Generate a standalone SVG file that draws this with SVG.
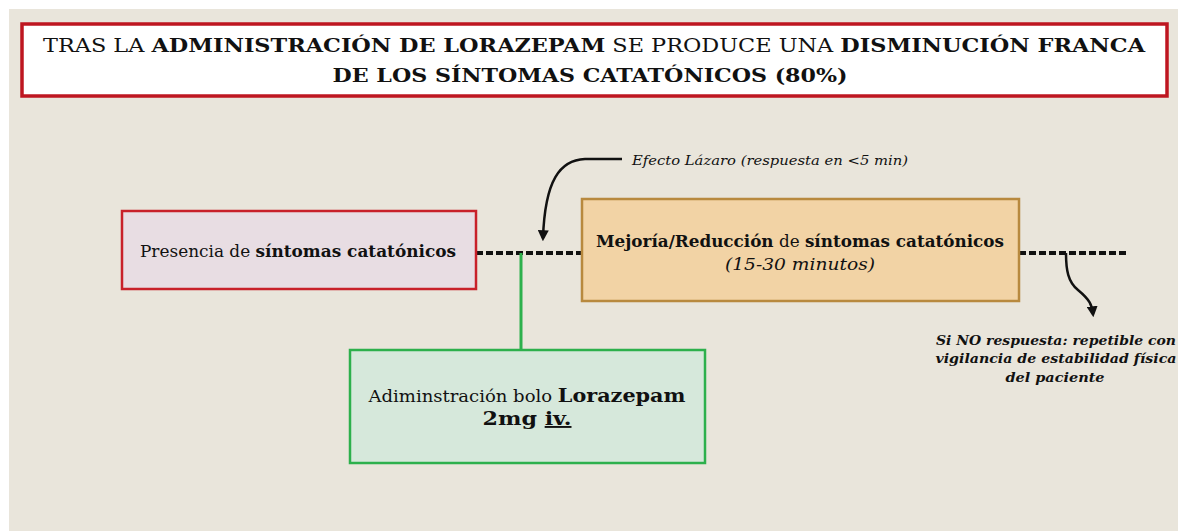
<svg xmlns="http://www.w3.org/2000/svg" width="1178" height="531" viewBox="0 0 1178 531">
<style>
.t{font-family:"DejaVu Serif","Liberation Serif",serif;fill:#111}
.b{font-weight:bold}
.i{font-style:italic}
.dash{stroke:#111;stroke-width:4;stroke-dasharray:7 3;fill:none}
.curve{stroke:#111;stroke-width:2.5;fill:none}
</style>
<defs>
<marker id="ah" viewBox="0 0 10 10" refX="7" refY="5" markerWidth="4.4" markerHeight="4.4" orient="auto" markerUnits="strokeWidth">
<path d="M0,0 L10,5 L0,10 z" fill="#111"/>
</marker>
</defs>
<rect x="0" y="0" width="1178" height="531" fill="#ffffff"/>
<rect x="9" y="9" width="1169" height="522" fill="#E9E5DB"/>

<g id="title">
<rect x="22" y="24" width="1145" height="72" fill="#ffffff" stroke="#BE1620" stroke-width="3.5"/>
<text class="t" x="594" y="52" font-size="19" text-anchor="middle" textLength="1102" lengthAdjust="spacingAndGlyphs">TRAS LA <tspan class="b">ADMINISTRACIÓN  DE LORAZEPAM</tspan>  SE PRODUCE UNA <tspan class="b">DISMINUCIÓN  FRANCA</tspan></text>
<text class="t b" x="590" y="82" font-size="19" text-anchor="middle" textLength="515" lengthAdjust="spacingAndGlyphs">DE LOS SÍNTOMAS  CATATÓNICOS  (80%)</text>
</g>

<g id="connectors">
<line class="dash" x1="476" y1="253" x2="582" y2="253"/>
<line class="dash" x1="1019" y1="253" x2="1128" y2="253"/>
<line x1="521" y1="253" x2="521" y2="350" stroke="#2DB04C" stroke-width="3"/>
<path class="curve" d="M622,159 L585,159 C560,160 545,180 543,238" marker-end="url(#ah)"/>
<path class="curve" d="M1066,253 C1066,270 1068,282 1078,290 C1090,300 1092,305 1093,314" marker-end="url(#ah)"/>
</g>

<g id="lazaro-label">
<text class="t i" x="632" y="165" font-size="12.5" textLength="276" lengthAdjust="spacingAndGlyphs">Efecto Lázaro (respuesta en &lt;5 min)</text>
</g>

<g id="presencia">
<rect x="122" y="211" width="354" height="78" fill="#E8DDE3" stroke="#C8202A" stroke-width="2.5"/>
<text class="t" x="298" y="257" font-size="16" text-anchor="middle" textLength="316" lengthAdjust="spacingAndGlyphs">Presencia de <tspan class="b">síntomas catatónicos</tspan></text>
</g>

<g id="mejoria">
<rect x="582" y="199" width="437" height="102" fill="#F2D3A5" stroke="#B8893E" stroke-width="2.5"/>
<text class="t" x="800" y="247" font-size="16" text-anchor="middle" textLength="408" lengthAdjust="spacingAndGlyphs"><tspan class="b">Mejoría/Reducción</tspan> de <tspan class="b">síntomas catatónicos</tspan></text>
<text class="t i" x="800" y="270" font-size="16" text-anchor="middle" textLength="150" lengthAdjust="spacingAndGlyphs">(15-30 minutos)</text>
</g>

<g id="lorazepam">
<rect x="350" y="350" width="355" height="113" fill="#D6E8DB" stroke="#2DB04C" stroke-width="2.5"/>
<text class="t" x="527" y="402" font-size="16.5" text-anchor="middle" textLength="317" lengthAdjust="spacingAndGlyphs">Adiminstración bolo <tspan class="b" font-size="19">Lorazepam</tspan></text>
<text class="t b" x="527" y="425" font-size="19" text-anchor="middle" textLength="89" lengthAdjust="spacingAndGlyphs">2mg <tspan text-decoration="underline">iv.</tspan></text>
</g>

<g id="no-respuesta">
<text class="t b i" x="1056" y="345" font-size="12.5" text-anchor="middle" textLength="240" lengthAdjust="spacingAndGlyphs">Si NO respuesta:  repetible con</text>
<text class="t b i" x="1056" y="363" font-size="12.5" text-anchor="middle" textLength="241" lengthAdjust="spacingAndGlyphs">vigilancia de estabilidad física</text>
<text class="t b i" x="1055" y="382" font-size="12.5" text-anchor="middle" textLength="99" lengthAdjust="spacingAndGlyphs">del paciente</text>
</g>
</svg>
